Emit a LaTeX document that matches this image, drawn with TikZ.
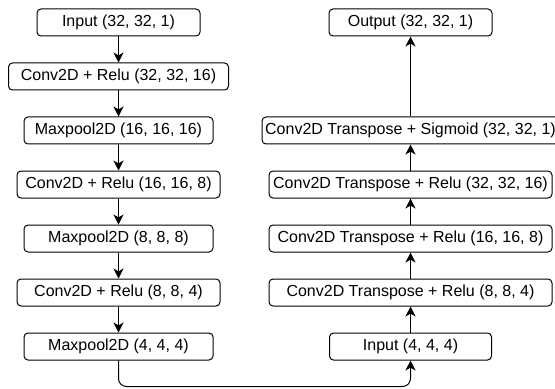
\documentclass[tikz,border=0pt]{standalone}
\usepackage{fontspec}
\setmainfont{Liberation Sans}
\usetikzlibrary{arrows.meta}
\begin{document}
\begin{tikzpicture}[x=0.75pt, y=-0.75pt,
  layer/.style={draw, rounded corners=3pt, line width=0.75pt,
    minimum height=20.25pt, inner xsep=1pt, inner ysep=0pt,
    font=\fontsize{12}{14}\selectfont},
  flow/.style={-{Stealth[length=7.5pt, width=7.5pt, inset=2.2pt]}, line width=0.75pt}]
\useasboundingbox (0,0) rectangle (555,388);

% encoder
\node[layer, minimum width=122.25pt] (e0) at (118.5, 22.5)  {Input (32, 32, 1)};
\node[layer, minimum width=165pt]    (e1) at (118.5, 76.5)  {Conv2D + Relu (32, 32, 16)};
\node[layer, minimum width=141.75pt] (e2) at (118.5, 130.5) {Maxpool2D (16, 16, 16)};
\node[layer, minimum width=152.25pt] (e3) at (118.5, 184.5) {Conv2D + Relu (16, 16, 8)};
\node[layer, minimum width=141.75pt] (e4) at (118.5, 238.5) {Maxpool2D (8, 8, 8)};
\node[layer, minimum width=152.25pt] (e5) at (118.5, 292.5) {Conv2D + Relu (8, 8, 4)};
\node[layer, minimum width=141.75pt] (e6) at (118.5, 346.5) {Maxpool2D (4, 4, 4)};

% decoder
\node[layer, minimum width=122.25pt] (d0) at (410.5, 22.5)  {Output (32, 32, 1)};
\node[layer, minimum width=222.75pt] (d1) at (410.5, 130.5) {Conv2D Transpose + Sigmoid (32, 32, 1)};
\node[layer, minimum width=212.25pt] (d2) at (410.5, 184.5) {Conv2D Transpose + Relu (32, 32, 16)};
\node[layer, minimum width=212.25pt] (d3) at (410.5, 238.5) {Conv2D Transpose + Relu (16, 16, 8)};
\node[layer, minimum width=212.25pt] (d4) at (410.5, 292.5) {Conv2D Transpose + Relu (8, 8, 4)};
\node[layer, minimum width=121.5pt]  (d5) at (410.5, 346.5) {Input (4, 4, 4)};

% encoder flow
\draw[flow] (e0) -- (e1);
\draw[flow] (e1) -- (e2);
\draw[flow] (e2) -- (e3);
\draw[flow] (e3) -- (e4);
\draw[flow] (e4) -- (e5);
\draw[flow] (e5) -- (e6);

% bottleneck link
\draw[flow, rounded corners=6pt] (e6.south) -- ++(0,26) -| (d5.south);

% decoder flow
\draw[flow] (d5) -- (d4);
\draw[flow] (d4) -- (d3);
\draw[flow] (d3) -- (d2);
\draw[flow] (d2) -- (d1);
\draw[flow] (d1) -- (d0);
\end{tikzpicture}
\end{document}
